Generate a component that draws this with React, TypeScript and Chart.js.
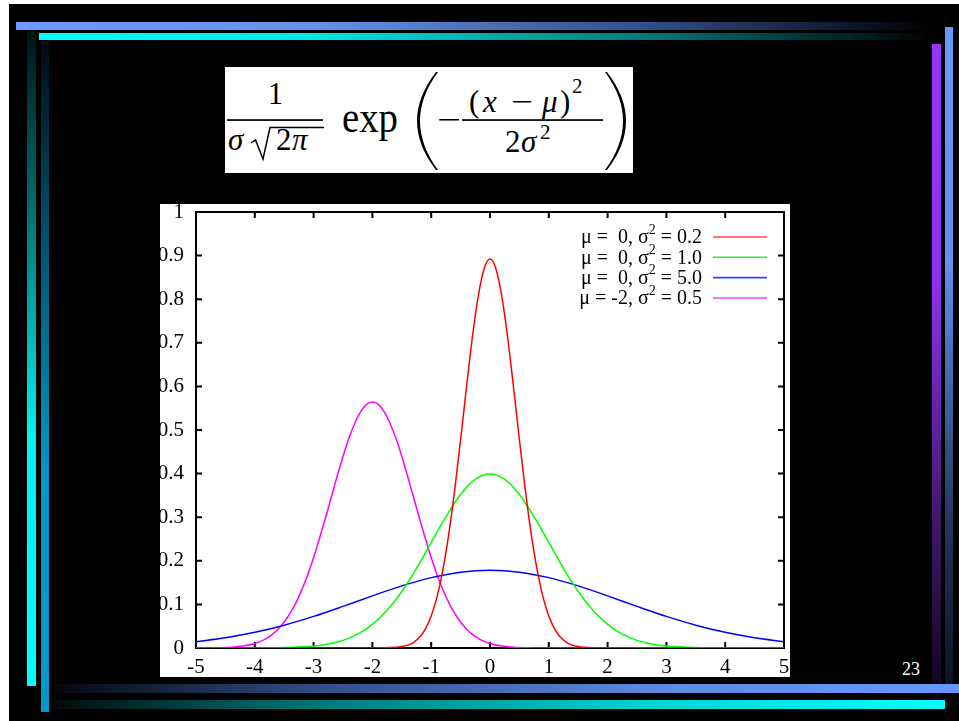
import React, { useEffect, useRef } from "react";
import { Chart, registerables } from "chart.js";

Chart.register(...registerables);

// ---------- data ----------
const xTicks = [-5, -4, -3, -2, -1, 0, 1, 2, 3, 4, 5];
const yTicks = [0, 0.1, 0.2, 0.3, 0.4, 0.5, 0.6, 0.7, 0.8, 0.9, 1];
const yTickLabels = ["0", "0.1", "0.2", "0.3", "0.4", "0.5", "0.6", "0.7", "0.8", "0.9", "1"];

const redX = [-5, -2, -1.8, -1.6, -1.5, -1.4, -1.3, -1.2, -1.1, -1.0, -0.9, -0.8, -0.7, -0.6, -0.5, -0.4, -0.3, -0.2, -0.1, 0,
  0.1, 0.2, 0.3, 0.4, 0.5, 0.6, 0.7, 0.8, 0.9, 1.0, 1.1, 1.2, 1.3, 1.4, 1.5, 1.6, 1.8, 2, 5];
const redY = [0, 0, 0.0003, 0.0015, 0.0032, 0.0066, 0.013, 0.0244, 0.0433, 0.0732, 0.1177, 0.1801, 0.2621, 0.3627, 0.4775, 0.598, 0.7123, 0.8072, 0.87, 0.8921,
  0.87, 0.8072, 0.7123, 0.598, 0.4775, 0.3627, 0.2621, 0.1801, 0.1177, 0.0732, 0.0433, 0.0244, 0.013, 0.0066, 0.0032, 0.0015, 0.0003, 0, 0];

const greenX = [-5, -4, -3.5, -3, -2.75, -2.5, -2.25, -2, -1.75, -1.5, -1.25, -1, -0.75, -0.5, -0.25, 0,
  0.25, 0.5, 0.75, 1, 1.25, 1.5, 1.75, 2, 2.25, 2.5, 2.75, 3, 3.5, 4, 5];
const greenY = [0, 0.0001, 0.0009, 0.0044, 0.0091, 0.0175, 0.0317, 0.054, 0.0863, 0.1295, 0.1826, 0.242, 0.3011, 0.3521, 0.3867, 0.3989,
  0.3867, 0.3521, 0.3011, 0.242, 0.1826, 0.1295, 0.0863, 0.054, 0.0317, 0.0175, 0.0091, 0.0044, 0.0009, 0.0001, 0];

const blueX = [-5, -4.5, -4, -3.5, -3, -2.5, -2, -1.5, -1, -0.5, 0, 0.5, 1, 1.5, 2, 2.5, 3, 3.5, 4, 4.5, 5];
const blueY = [0.0146, 0.0235, 0.036, 0.0524, 0.0725, 0.0955, 0.1196, 0.1425, 0.1614, 0.174, 0.1784, 0.174, 0.1614, 0.1425, 0.1196, 0.0955, 0.0725, 0.0524, 0.036, 0.0235, 0.0146];

const magentaX = [-5, -4.6, -4.4, -4.2, -4.0, -3.9, -3.8, -3.7, -3.6, -3.5, -3.4, -3.3, -3.2, -3.1, -3.0, -2.9, -2.8, -2.7, -2.6, -2.5, -2.4, -2.3, -2.2, -2.1, -2.0,
  -1.9, -1.8, -1.7, -1.6, -1.5, -1.4, -1.3, -1.2, -1.1, -1.0, -0.9, -0.8, -0.7, -0.6, -0.5, -0.4, -0.3, -0.2, -0.1, 0, 0.2, 0.4, 0.6, 1, 2, 5];
const magentaY = [0.0001, 0.0007, 0.0018, 0.0045, 0.0103, 0.0153, 0.0221, 0.0314, 0.0436, 0.0595, 0.0795, 0.1041, 0.1337, 0.1682, 0.2076, 0.251, 0.2975, 0.3456, 0.3936, 0.4394, 0.4808, 0.5156, 0.5421, 0.5586, 0.5642,
  0.5586, 0.5421, 0.5156, 0.4808, 0.4394, 0.3936, 0.3456, 0.2975, 0.251, 0.2076, 0.1682, 0.1337, 0.1041, 0.0795, 0.0595, 0.0436, 0.0314, 0.0221, 0.0153, 0.0103, 0.0045, 0.0018, 0.0007, 0.0001, 0, 0];

const seriesMu = ["0", "0", "0", "-2"];
const seriesVar = ["0.2", "1.0", "5.0", "0.5"];
const seriesColors = ["#ff0000", "#00ff00", "#0000ff", "#ff00ff"];
const legendColors = ["#ff4d4d", "#33ee33", "#3344ff", "#ff44ff"];

const FONT = '"Liberation Serif", "Times New Roman", serif';

const pts = (xs: number[], ys: number[]) => xs.map((x, i) => ({ x, y: ys[i] }));

const framePlugin = {
  id: "gnuframe",
  beforeDatasetsDraw(chart: any) {
    const { ctx, chartArea } = chart;
    const { left, right, top, bottom } = chartArea;
    const xs = chart.scales.x;
    const ys = chart.scales.y;
    ctx.save();
    ctx.strokeStyle = "#000";
    ctx.lineWidth = 2;
    ctx.strokeRect(left, top, right - left, bottom - top);
    ctx.beginPath();
    xTicks.forEach((v) => {
      const px = xs.getPixelForValue(v);
      ctx.moveTo(px, bottom);
      ctx.lineTo(px, bottom - 6);
      ctx.moveTo(px, top);
      ctx.lineTo(px, top + 6);
    });
    yTicks.forEach((v) => {
      const py = ys.getPixelForValue(v);
      ctx.moveTo(left, py);
      ctx.lineTo(left + 6, py);
      ctx.moveTo(right, py);
      ctx.lineTo(right - 6, py);
    });
    ctx.stroke();
    ctx.restore();
  },
  afterDatasetsDraw(chart: any) {
    const { ctx } = chart;
    const textRight = 542;
    const lineL = 553;
    const lineR = 607;
    const rowY = [33, 53.3, 73.6, 94];
    ctx.save();
    ctx.fillStyle = "#000";
    ctx.textBaseline = "middle";
    ctx.textAlign = "left";
    seriesMu.forEach((mu, i) => {
      const pre = "\u03bc = " + (mu.length < 2 ? " " + mu : mu) + ", \u03c3";
      const sup = "2";
      const post = " = " + seriesVar[i];
      ctx.font = `20px ${FONT}`;
      const wPre = ctx.measureText(pre).width;
      const wPost = ctx.measureText(post).width;
      ctx.font = `14px ${FONT}`;
      const wSup = ctx.measureText(sup).width;
      let x = textRight - wPre - wSup - wPost;
      const y = rowY[i] + 1;
      ctx.font = `20px ${FONT}`;
      ctx.fillText(pre, x, y);
      x += wPre;
      ctx.font = `14px ${FONT}`;
      ctx.fillText(sup, x, y - 8);
      x += wSup;
      ctx.font = `20px ${FONT}`;
      ctx.fillText(post, x, y);
      ctx.strokeStyle = legendColors[i];
      ctx.lineWidth = 1.6;
      ctx.beginPath();
      ctx.moveTo(lineL, rowY[i]);
      ctx.lineTo(lineR, rowY[i]);
      ctx.stroke();
    });
    ctx.restore();
  },
};

function GaussChart() {
  const ref = useRef<HTMLCanvasElement | null>(null);
  useEffect(() => {
    if (!ref.current) return;
    const mk = (label: string, xs: number[], ys: number[], color: string) => ({
      label,
      data: pts(xs, ys),
      borderColor: color,
      borderWidth: 1.5,
      pointRadius: 0,
      fill: false,
      cubicInterpolationMode: "monotone" as const,
    });
    const labels = seriesMu.map((m, i) => `\u03bc = ${m}, \u03c3\u00b2 = ${seriesVar[i]}`);
    const chart = new Chart(ref.current, {
      type: "line",
      data: {
        datasets: [
          mk(labels[0], redX, redY, seriesColors[0]),
          mk(labels[1], greenX, greenY, seriesColors[1]),
          mk(labels[2], blueX, blueY, seriesColors[2]),
          mk(labels[3], magentaX, magentaY, seriesColors[3]),
        ],
      },
      options: {
        animation: false,
        responsive: false,
        maintainAspectRatio: false,
        layout: { padding: { top: 8, right: 6, left: 0, bottom: 0 } },
        plugins: { legend: { display: false }, tooltip: { enabled: false } },
        scales: {
          x: {
            type: "linear",
            min: -5,
            max: 5,
            grid: { display: false, drawTicks: false },
            border: { display: false },
            ticks: {
              stepSize: 1,
              autoSkip: false,
              maxRotation: 0,
              padding: 7,
              color: "#000",
              font: { family: FONT, size: 21 },
              callback: (v: any) => String(v),
            },
            afterFit: (s: any) => {
              s.height = 29;
              s.paddingLeft = 0;
              s.paddingRight = 0;
            },
          },
          y: {
            type: "linear",
            min: 0,
            max: 1,
            grid: { display: false, drawTicks: false },
            border: { display: false },
            ticks: {
              stepSize: 0.1,
              autoSkip: false,
              padding: 12,
              color: "#000",
              font: { family: FONT, size: 21 },
              callback: (_v: any, i: number) => yTickLabels[i],
            },
            afterFit: (s: any) => {
              s.width = 36;
              s.paddingTop = 0;
              s.paddingBottom = 0;
            },
          },
        },
      } as any,
      plugins: [framePlugin],
    });
    return () => chart.destroy();
  }, []);
  return (
    <canvas
      ref={ref}
      width={630}
      height={473}
      style={{ position: "absolute", left: 160, top: 204, width: 630, height: 473, background: "#fff" }}
    />
  );
}

function Slide() {
  const it = { fontStyle: "italic" } as const;
  return (
    <svg width={959} height={721} style={{ position: "absolute", left: 0, top: 0 }}>
      <defs>
        <linearGradient id="gTop1" x1="0" y1="0" x2="1" y2="0">
          <stop offset="0" stopColor="#6a9dff" />
          <stop offset="0.33" stopColor="#6690e6" />
          <stop offset="0.68" stopColor="#34508c" />
          <stop offset="1" stopColor="#000000" />
        </linearGradient>
        <linearGradient id="gTop2" x1="0" y1="0" x2="1" y2="0">
          <stop offset="0" stopColor="#00ffff" />
          <stop offset="0.3" stopColor="#00e8e8" />
          <stop offset="0.67" stopColor="#007c7c" />
          <stop offset="1" stopColor="#000000" />
        </linearGradient>
        <linearGradient id="gLeft1" x1="0" y1="0" x2="0" y2="1">
          <stop offset="0" stopColor="#001414" />
          <stop offset="0.26" stopColor="#006a6a" />
          <stop offset="0.62" stopColor="#00f0f0" />
          <stop offset="1" stopColor="#00ffff" />
        </linearGradient>
        <linearGradient id="gLeft2" x1="0" y1="0" x2="0" y2="1">
          <stop offset="0" stopColor="#000a10" />
          <stop offset="0.24" stopColor="#00465e" />
          <stop offset="0.65" stopColor="#0096c8" />
          <stop offset="1" stopColor="#0099cc" />
        </linearGradient>
        <linearGradient id="gRight1" x1="0" y1="0" x2="0" y2="1">
          <stop offset="0" stopColor="#9933ff" />
          <stop offset="0.35" stopColor="#9030f0" />
          <stop offset="0.75" stopColor="#3c1664" />
          <stop offset="1" stopColor="#0c0418" />
        </linearGradient>
        <linearGradient id="gRight2" x1="0" y1="0" x2="0" y2="1">
          <stop offset="0" stopColor="#6699ff" />
          <stop offset="0.35" stopColor="#6090f0" />
          <stop offset="0.75" stopColor="#22365c" />
          <stop offset="1" stopColor="#0c1220" />
        </linearGradient>
        <linearGradient id="gBot1" x1="0" y1="0" x2="1" y2="0">
          <stop offset="0" stopColor="#05070d" />
          <stop offset="0.3" stopColor="#33508c" />
          <stop offset="0.66" stopColor="#5c8ae0" />
          <stop offset="1" stopColor="#6699ff" />
        </linearGradient>
        <linearGradient id="gBot2" x1="0" y1="0" x2="1" y2="0">
          <stop offset="0" stopColor="#020a0a" />
          <stop offset="0.3" stopColor="#007a7a" />
          <stop offset="0.66" stopColor="#00d2d2" />
          <stop offset="1" stopColor="#00ffff" />
        </linearGradient>
      </defs>
      <rect x={0} y={0} width={959} height={721} fill="#ffffff" />
      <rect x={9} y={4} width={950} height={717} fill="#000000" />

      <rect x={16} y={22} width={917} height={8} fill="url(#gTop1)" />
      <rect x={39} y={33} width={894} height={7} fill="url(#gTop2)" />
      <rect x={27} y={31} width={9} height={655} fill="url(#gLeft1)" />
      <rect x={41} y={40} width={8} height={672} fill="url(#gLeft2)" />
      <rect x={932} y={44} width={9} height={656} fill="url(#gRight1)" />
      <rect x={945} y={27} width={8} height={663} fill="url(#gRight2)" />
      <rect x={56} y={684} width={903} height={9} fill="url(#gBot1)" />
      <rect x={54} y={700} width={891} height={9} fill="url(#gBot2)" />

      <text x={902} y={675} fill="#ffffff" fontSize={18} fontFamily={FONT}>23</text>

      <rect x={225} y={67} width={408} height={106} fill="#ffffff" />
      <g fill="#000" fontFamily={FONT}>
        <text x={275.5} y={104} fontSize={31} textAnchor="middle">1</text>
        <rect x={227} y={119.2} width={96} height={1.7} />
        <text x={228} y={150} fontSize={31} style={it}>σ</text>
        <path d="M251,143 L255.5,140 L263,159 L270,127.5 L324,127.5" stroke="#000" strokeWidth={1.5} fill="none" />
        <text x={276} y={150} fontSize={31}>2</text>
        <text x={292} y={150} fontSize={31} style={it}>π</text>
        <text x={342} y={132} fontSize={44} textLength={56} lengthAdjust="spacingAndGlyphs">exp</text>
        <path d="M436,72 Q398,121 436,170 L438,170 Q402,121 438,72 Z" />
        <text x={437} y={130} fontSize={31} textLength={24} lengthAdjust="spacingAndGlyphs">−</text>
        <text x={469} y={112} fontSize={31}>(</text>
        <text x={483} y={112} fontSize={31} style={it}>x</text>
        <text x={511} y={112} fontSize={31} textLength={22} lengthAdjust="spacingAndGlyphs">−</text>
        <text x={542} y={112} fontSize={31} style={it}>μ</text>
        <text x={560} y={112} fontSize={31}>)</text>
        <text x={572} y={93} fontSize={21}>2</text>
        <rect x={462} y={119.2} width={141} height={1.7} />
        <text x={505} y={152} fontSize={31}>2</text>
        <text x={521} y={152} fontSize={31} style={it}>σ</text>
        <text x={540} y={139} fontSize={21}>2</text>
        <path d="M607,72 Q645,121 607,170 L605,170 Q641,121 605,72 Z" />
      </g>
    </svg>
  );
}

export default function App() {
  return (
    <div style={{ position: "fixed", left: 0, top: 0, width: 959, height: 721, overflow: "hidden", background: "#fff" }}>
      <Slide />
      <GaussChart />
    </div>
  );
}
